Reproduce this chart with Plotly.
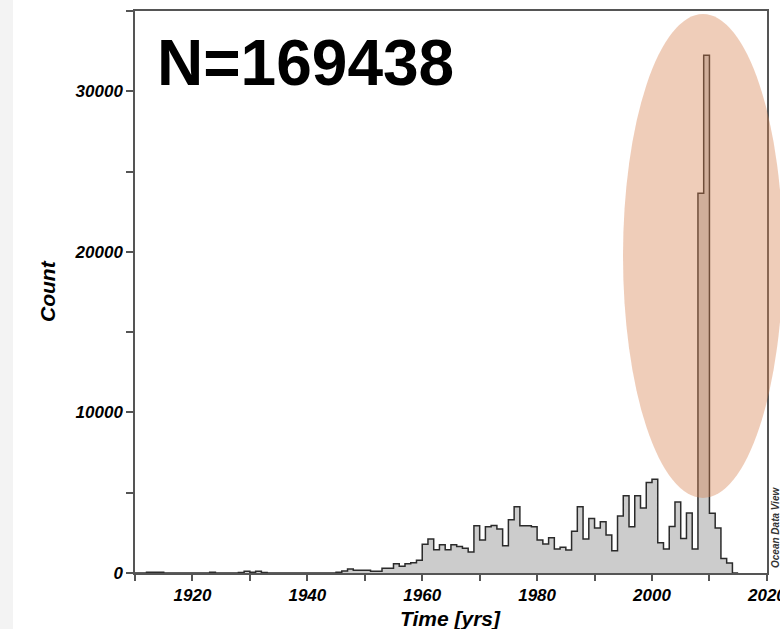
import plotly.graph_objects as go

# ---- data (1-year bins) ----
years = list(range(1910, 2015))
counts = [
    0, 0, 40, 40, 40, 0, 0, 0, 0, 0,                 # 1910-1919
    0, 0, 0, 40, 0, 0, 0, 0, 30, 110,                # 1920-1929
    40, 110, 30, 0, 0, 0, 0, 0, 0, 0,                # 1930-1939
    0, 0, 0, 0, 0, 40, 124, 249, 166, 166,           # 1940-1949
    166, 104, 104, 290, 290, 580, 415, 580, 643, 788,  # 1950-1959
    1783, 2114, 1451, 1762, 1451, 1762, 1658, 1534, 1306, 2944,  # 1960-1969
    2052, 2881, 2964, 2736, 1700, 3317, 4125, 2944, 2944, 2881,  # 1970-1979
    2052, 1810, 2197, 1500, 1600, 1440, 2600, 4125, 2110, 3400,  # 1980-1989
    2800, 3190, 2360, 1390, 3545, 4809, 2881, 4809, 4050, 5640,  # 1990-1999
    5846, 1880, 1493, 2900, 4420, 2156, 3740, 1493, 23650, 32250,  # 2000-2009
    3720, 2800, 900, 620, 0,                          # 2010-2014
]
x_range = [1910, 2020.02]
x_ticks = [1920, 1940, 1960, 1980, 2000, 2020]
x_minor = [1910, 1930, 1950, 1970, 1990, 2010]
y_range = [0, 35000]
y_ticks = [0, 10000, 20000, 30000]
n_label = "N=169438"
x_title = "Time [yrs]"
y_title = "Count"

# ---- step outline built from bins ----
edges = years + [years[-1] + 1]
xs = [edges[0]] + edges[:-1] + [edges[-1]]
ys = [0] + counts + [0]

FONT = "Liberation Sans, Arial, sans-serif"
AX = "#555555"

fig = go.Figure()
fig.add_trace(go.Scatter(
    x=xs, y=ys, mode="lines", line_shape="hv",
    line=dict(color="#2b2b2b", width=1.5),
    fill="tozeroy", fillcolor="#cccccc",
    hoverinfo="skip", showlegend=False,
))

W, H = 780, 629
L, R, T, B = 135, 13, 11, 56
pw, ph = W - L - R, H - T - B

def px(xp):
    return (xp - L) / pw

def py(yp):
    return (H - B - yp) / ph

tick_font = dict(size=17, weight="bold", style="italic", color="black", family=FONT)
title_font = dict(size=21, weight="bold", style="italic", color="black", family=FONT)

fig.update_layout(
    width=W, height=H,
    margin=dict(l=L, r=R, t=T, b=B),
    paper_bgcolor="white", plot_bgcolor="white",
    font=dict(family=FONT, color="black"),
    xaxis=dict(
        range=x_range, tickmode="array", tickvals=x_ticks,
        ticktext=[str(v) for v in x_ticks],
        ticks="outside", ticklen=6, tickwidth=1.5, tickcolor=AX,
        minor=dict(tickmode="array", tickvals=x_minor, ticks="outside",
                   ticklen=6, tickwidth=1.5, tickcolor=AX),
        showline=True, linecolor=AX, linewidth=1.5, mirror=True,
        showgrid=False, zeroline=False, automargin=False,
        ticklabeloverflow="allow",
        tickfont=tick_font,
    ),
    yaxis=dict(
        range=y_range, tickmode="array", tickvals=y_ticks,
        ticktext=[str(v) for v in y_ticks],
        ticks="outside", ticklen=7, tickwidth=1.5, tickcolor=AX,
        minor=dict(dtick=5000, ticks="outside", ticklen=7, tickwidth=1.5, tickcolor=AX),
        showline=True, linecolor=AX, linewidth=1.5, mirror=True,
        showgrid=False, zeroline=False, automargin=False,
        tickfont=tick_font,
    ),
    shapes=[
        dict(type="rect", xref="paper", yref="paper",
             x0=px(0), x1=px(13), y0=py(H), y1=py(0),
             fillcolor="#f3f3f3", line=dict(width=0), layer="below"),
        dict(type="circle", xref="paper", yref="paper",
             x0=px(623), x1=px(783), y0=py(498), y1=py(14),
             fillcolor="rgba(215,130,80,0.4)", line=dict(width=0), layer="above"),
    ],
    annotations=[
        dict(text=n_label, xref="paper", yref="paper", x=px(155), y=py(63),
             xanchor="left", yanchor="middle", showarrow=False,
             font=dict(size=64, weight="bold", color="black", family=FONT)),
        dict(text=x_title, xref="paper", yref="paper", x=px(450), y=py(618),
             xanchor="center", yanchor="middle", showarrow=False, font=title_font),
        dict(text=y_title, xref="paper", yref="paper", x=px(47), y=py(291),
             xanchor="center", yanchor="middle", showarrow=False, textangle=-90,
             font=title_font),
        dict(text="Ocean Data View", xref="paper", yref="paper", x=px(775), y=py(528),
             xanchor="center", yanchor="middle", showarrow=False, textangle=-90,
             font=dict(size=10, weight="bold", style="italic", color="#333333", family=FONT)),
    ],
)

fig.write_html("out.html")
